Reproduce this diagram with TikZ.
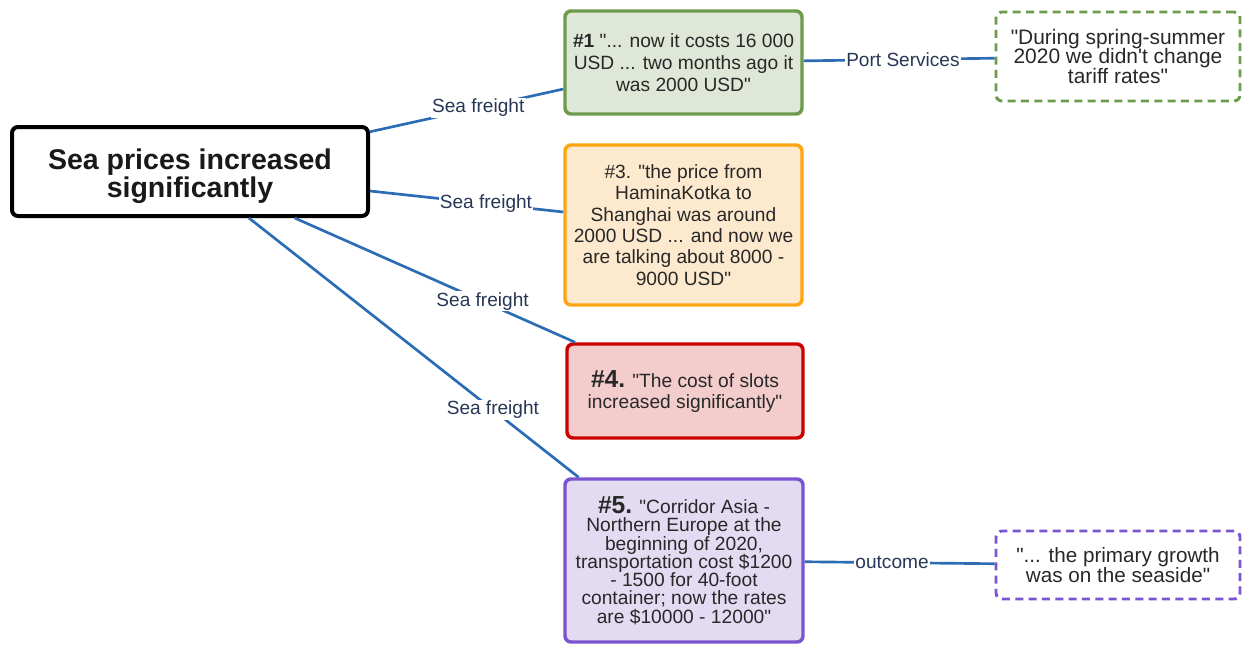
\documentclass[tikz,border=0pt]{standalone}
\usepackage{fontspec}
\setmainfont{Liberation Sans}[Ligatures=TeXOff]
\definecolor{edgeblue}{RGB}{43,108,180}
\definecolor{lblnavy}{RGB}{40,55,85}
\definecolor{bodytext}{RGB}{40,40,40}
\definecolor{grnline}{RGB}{108,155,75}
\definecolor{grnfill}{RGB}{223,231,216}
\definecolor{orgline}{RGB}{255,165,20}
\definecolor{orgfill}{RGB}{253,233,205}
\definecolor{redline}{RGB}{205,0,0}
\definecolor{redfill}{RGB}{243,204,204}
\definecolor{purline}{RGB}{123,84,208}
\definecolor{purfill}{RGB}{226,219,242}
\begin{document}
\begin{tikzpicture}[x=0.75pt,y=-0.75pt,
  hub/.style={draw=black, line width=3pt, rounded corners=4.5pt, fill=white,
    minimum width=267pt, minimum height=66.75pt, align=center, inner sep=0pt,
    text=black!90, font=\bfseries\fontsize{21.4}{21}\selectfont},
  quotebox/.style={draw, line width=2.6pt, rounded corners=4.5pt, align=center,
    inner sep=0pt, text=bodytext, minimum width=177.75pt},
  notebox/.style={draw, line width=2.2pt, dash pattern=on 6pt off 4pt,
    rounded corners=4.5pt, fill=white, align=center, inner sep=0pt,
    text=bodytext, minimum width=183pt},
  link/.style={draw=edgeblue, line width=2pt},
  lbl/.style={fill=white, text=lblnavy, inner sep=1pt,
    font=\fontsize{14.3}{16}\selectfont}]
\useasboundingbox (0,0) rectangle (1247,644);

% central claim (the strut lowers the two lines a little)
\node[hub] (main) at (190,171.5) {\rule{0pt}{23pt}Sea prices increased\\significantly};

% interview quotes
\node[quotebox, draw=grnline, fill=grnfill, minimum height=77.25pt,
  font=\fontsize{14.4}{16.3}\selectfont] (q1) at (683.5,62.5)
  {\textbf{\#1} "... now it costs 16 000\\USD ... two months ago it\\was 2000 USD"};
\node[quotebox, draw=orgline, fill=orgfill, minimum height=120pt,
  font=\fontsize{14.4}{16}\selectfont] (q3) at (683.5,225)
  {\#3. "the price from\\HaminaKotka to\\Shanghai was around\\2000 USD ... and now we\\are talking about 8000 -\\9000 USD"};
\node[quotebox, draw=redline, fill=redfill, minimum width=177pt, minimum height=70.5pt,
  font=\fontsize{14.4}{15.75}\selectfont] (q4) at (685,391)
  {{\bfseries\fontsize{18.5}{15.75}\selectfont\#4.} "The cost of slots\\increased significantly"};
\node[quotebox, draw=purline, fill=purfill, minimum width=178.5pt, minimum height=122.25pt,
  font=\fontsize{14.4}{13.7}\selectfont] (q5) at (684,560.5)
  {{\bfseries\fontsize{18.5}{13.7}\selectfont\#5.} "Corridor Asia -\\Northern Europe at the\\beginning of 2020,\\transportation cost \$1200\\- 1500 for 40-foot\\container; now the rates\\are \$10000 - 12000"};

% side notes
\node[notebox, draw=grnline, minimum height=66.75pt,
  font=\fontsize{15.7}{14.8}\selectfont] (n1) at (1118,56.5)
  {"During spring-summer\\2020 we didn't change\\tariff rates"};
\node[notebox, draw=purline, minimum height=51pt,
  font=\fontsize{15.5}{15}\selectfont] (n5) at (1118,565)
  {"... the primary growth\\was on the seaside"};

% connectors
\draw[link] (main) -- node[lbl, pos=0.56] {Sea freight} (q1);
\draw[link] (main) -- node[lbl, pos=0.60] {Sea freight} (q3);
\draw[link] (main) -- node[lbl, pos=0.67] {Sea freight} (q4);
\draw[link] (main) -- node[lbl, pos=0.74] {Sea freight} (q5);
\draw[link] (q1) -- node[lbl, pos=0.52] {Port Services} (n1);
\draw[link] (q5) -- node[lbl, pos=0.46] {outcome} (n5);
\end{tikzpicture}
\end{document}
